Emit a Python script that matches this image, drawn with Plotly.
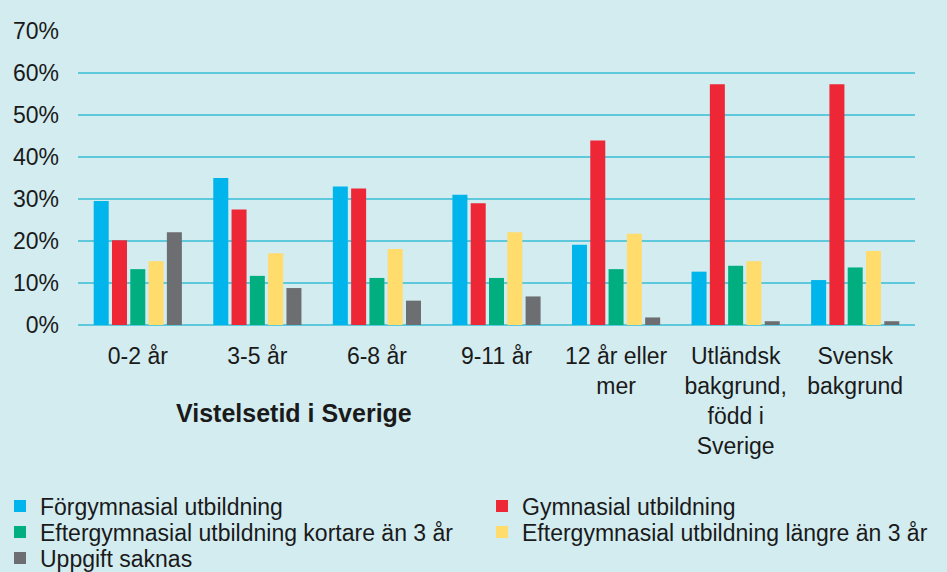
import plotly.graph_objects as go

categories = ["0-2 år", "3-5 år", "6-8 år", "9-11 år", "12 år eller<br>mer",
              "Utländsk<br>bakgrund,<br>född i<br>Sverige", "Svensk<br>bakgrund"]
series_names = ["Förgymnasial utbildning", "Gymnasial utbildning",
                "Eftergymnasial utbildning kortare än 3 år",
                "Eftergymnasial utbildning längre än 3 år", "Uppgift saknas"]
forgymnasial = [29.5, 35.0, 33.0, 31.0, 19.1, 12.7, 10.7]
gymnasial = [20.2, 27.5, 32.5, 29.0, 43.9, 57.3, 57.3]
efter_kort = [13.3, 11.7, 11.2, 11.2, 13.3, 14.1, 13.7]
efter_lang = [15.2, 17.1, 18.1, 22.1, 21.7, 15.2, 17.6]
saknas = [22.1, 8.8, 5.8, 6.8, 1.8, 0.9, 0.9]
y_ticks = [0, 10, 20, 30, 40, 50, 60, 70]
y_tick_labels = [f"{v}%" for v in y_ticks]

values = [forgymnasial, gymnasial, efter_kort, efter_lang, saknas]
colors = ["#00b4ec", "#ee2737", "#00ae7f", "#ffdc6b", "#6d6e71"]
legend_ids = ["legend", "legend2", "legend3", "legend4", "legend5"]
# legend placement: (container x fraction, row centre in px)
legend_pos = [(0.0, 506), (0.509, 506), (0.0, 532), (0.509, 532), (0.0, 558)]
FONT = "Liberation Sans"
TXT = "#1a1a1a"

fig = go.Figure()
for name, vals, col, lid in zip(series_names, values, colors, legend_ids):
    fig.add_trace(go.Bar(x=categories, y=vals, name=name, marker_color=col,
                         marker_line_width=0, legend=lid))

legends = {}
for lid, (lx, ly) in zip(legend_ids, legend_pos):
    legends[lid] = dict(orientation="h", xref="container", yref="container",
                        x=lx, y=1 - ly / 572, xanchor="left", yanchor="middle",
                        font=dict(size=23, family=FONT, color=TXT),
                        bgcolor="rgba(0,0,0,0)", itemclick=False)

fig.update_layout(
    width=947, height=572,
    paper_bgcolor="#d3ecf0", plot_bgcolor="#d3ecf0",
    margin=dict(l=78, r=32, t=31, b=247),
    barmode="group", bargap=0.235, bargroupgap=0.18,
    font=dict(family=FONT, size=23, color=TXT),
    showlegend=True,
    annotations=[dict(text="<b>Vistelsetid i Sverige</b>", xref="paper", yref="paper",
                      x=0.258, y=-0.3, xanchor="center", yanchor="middle",
                      showarrow=False, font=dict(size=25, family=FONT, color=TXT))],
    **legends,
)
fig.update_yaxes(range=[0, 70], tickvals=y_ticks, ticktext=y_tick_labels,
                 showgrid=True, gridcolor="#5ec9dd", gridwidth=2,
                 zeroline=True, zerolinecolor="#5ec9dd", zerolinewidth=2,
                 ticks="", ticklabelstandoff=18, showline=False)
fig.update_xaxes(showgrid=False, ticks="", ticklabelstandoff=15, showline=False)

fig.write_html("out.html", config={"displayModeBar": False},
               post_script="document.body.style.margin='0';")
